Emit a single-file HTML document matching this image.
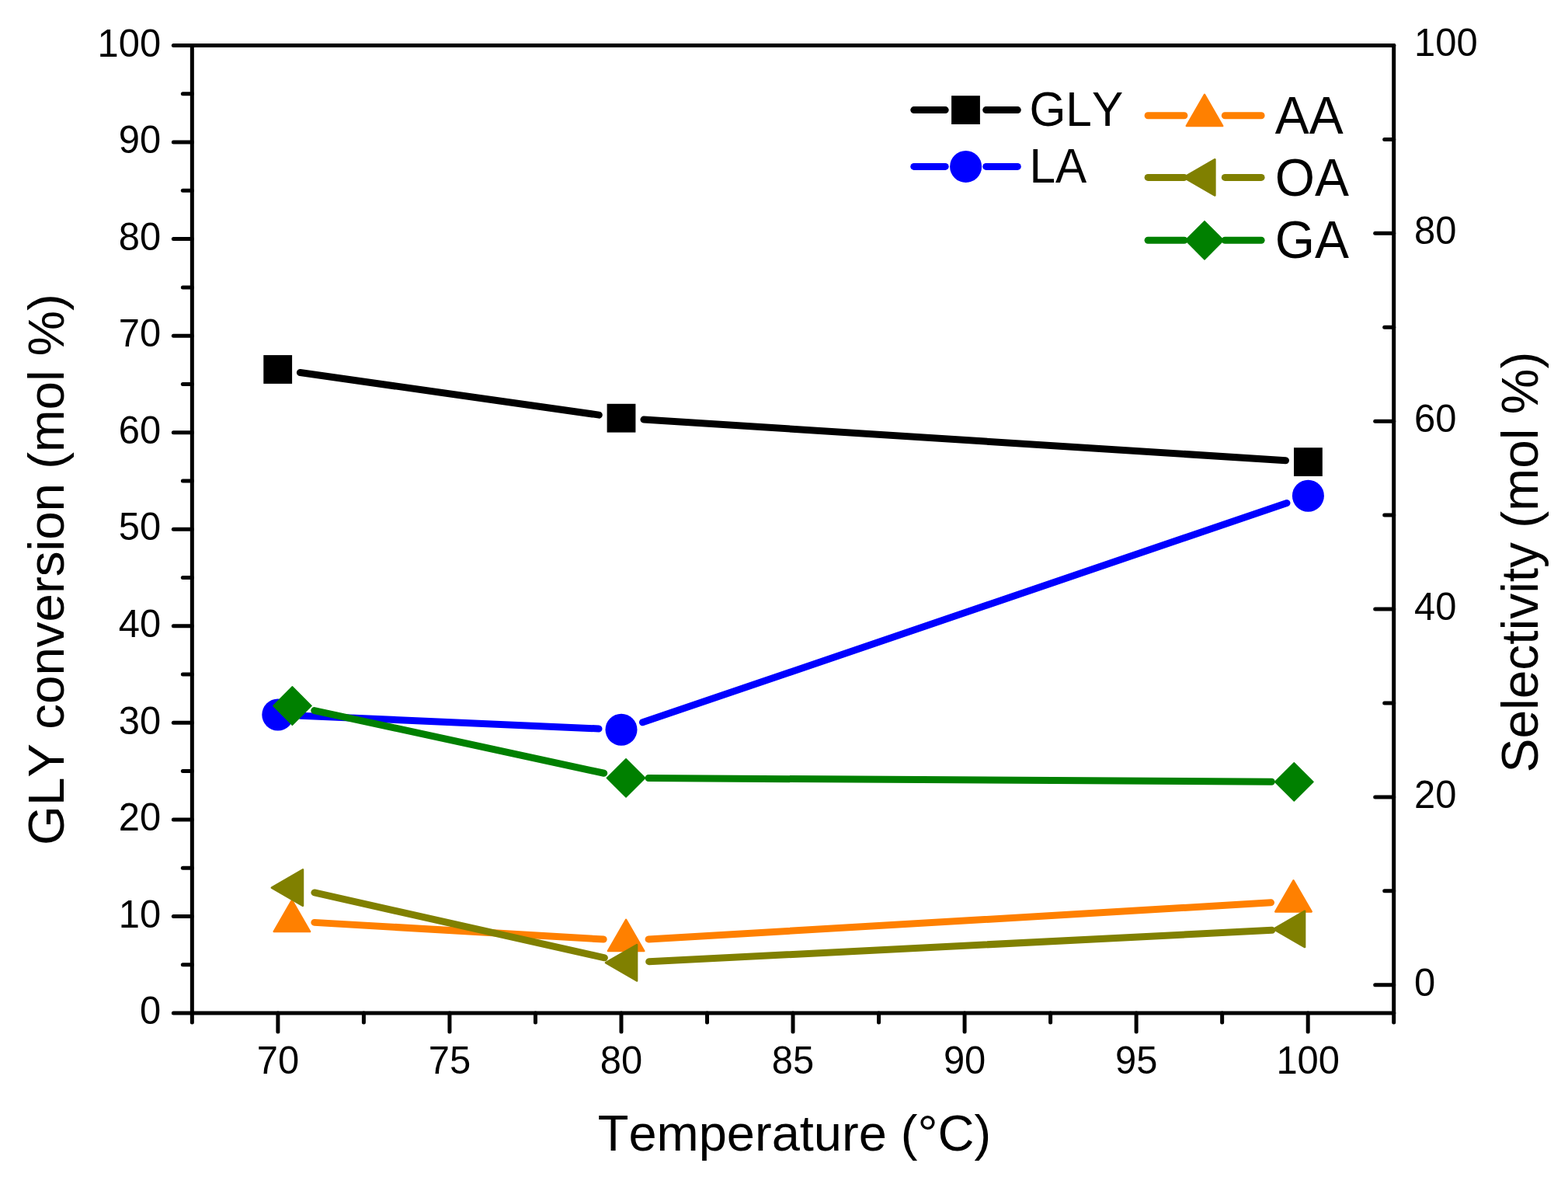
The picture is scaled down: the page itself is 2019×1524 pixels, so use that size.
<!DOCTYPE html>
<html><head><meta charset="utf-8"><title>GLY conversion vs Temperature</title>
<style>html,body{margin:0;padding:0;background:#fff;overflow:hidden;width:2019px;height:1524px;}svg{display:block;}text{font-family:"Liberation Sans", Arial, sans-serif;fill:#000;font-kerning:none;}</style>
</head><body>
<svg width="2019" height="1524" viewBox="0 0 2019 1524">
<rect width="2019" height="1524" fill="#fff"/>
<line x1="223.35" y1="1304.00" x2="247.35" y2="1304.00" stroke="#000" stroke-width="5.0" stroke-linecap="round"/>
<line x1="235.35" y1="1241.72" x2="247.35" y2="1241.72" stroke="#000" stroke-width="5.0" stroke-linecap="round"/>
<line x1="223.35" y1="1179.45" x2="247.35" y2="1179.45" stroke="#000" stroke-width="5.0" stroke-linecap="round"/>
<line x1="235.35" y1="1117.17" x2="247.35" y2="1117.17" stroke="#000" stroke-width="5.0" stroke-linecap="round"/>
<line x1="223.35" y1="1054.90" x2="247.35" y2="1054.90" stroke="#000" stroke-width="5.0" stroke-linecap="round"/>
<line x1="235.35" y1="992.62" x2="247.35" y2="992.62" stroke="#000" stroke-width="5.0" stroke-linecap="round"/>
<line x1="223.35" y1="930.35" x2="247.35" y2="930.35" stroke="#000" stroke-width="5.0" stroke-linecap="round"/>
<line x1="235.35" y1="868.08" x2="247.35" y2="868.08" stroke="#000" stroke-width="5.0" stroke-linecap="round"/>
<line x1="223.35" y1="805.80" x2="247.35" y2="805.80" stroke="#000" stroke-width="5.0" stroke-linecap="round"/>
<line x1="235.35" y1="743.52" x2="247.35" y2="743.52" stroke="#000" stroke-width="5.0" stroke-linecap="round"/>
<line x1="223.35" y1="681.25" x2="247.35" y2="681.25" stroke="#000" stroke-width="5.0" stroke-linecap="round"/>
<line x1="235.35" y1="618.98" x2="247.35" y2="618.98" stroke="#000" stroke-width="5.0" stroke-linecap="round"/>
<line x1="223.35" y1="556.70" x2="247.35" y2="556.70" stroke="#000" stroke-width="5.0" stroke-linecap="round"/>
<line x1="235.35" y1="494.42" x2="247.35" y2="494.42" stroke="#000" stroke-width="5.0" stroke-linecap="round"/>
<line x1="223.35" y1="432.15" x2="247.35" y2="432.15" stroke="#000" stroke-width="5.0" stroke-linecap="round"/>
<line x1="235.35" y1="369.88" x2="247.35" y2="369.88" stroke="#000" stroke-width="5.0" stroke-linecap="round"/>
<line x1="223.35" y1="307.60" x2="247.35" y2="307.60" stroke="#000" stroke-width="5.0" stroke-linecap="round"/>
<line x1="235.35" y1="245.33" x2="247.35" y2="245.33" stroke="#000" stroke-width="5.0" stroke-linecap="round"/>
<line x1="223.35" y1="183.05" x2="247.35" y2="183.05" stroke="#000" stroke-width="5.0" stroke-linecap="round"/>
<line x1="235.35" y1="120.78" x2="247.35" y2="120.78" stroke="#000" stroke-width="5.0" stroke-linecap="round"/>
<line x1="223.35" y1="58.50" x2="247.35" y2="58.50" stroke="#000" stroke-width="5.0" stroke-linecap="round"/>
<line x1="247.35" y1="1304.00" x2="247.35" y2="1316.00" stroke="#000" stroke-width="5.0" stroke-linecap="round"/>
<line x1="357.88" y1="1304.00" x2="357.88" y2="1328.00" stroke="#000" stroke-width="5.0" stroke-linecap="round"/>
<line x1="468.40" y1="1304.00" x2="468.40" y2="1316.00" stroke="#000" stroke-width="5.0" stroke-linecap="round"/>
<line x1="578.93" y1="1304.00" x2="578.93" y2="1328.00" stroke="#000" stroke-width="5.0" stroke-linecap="round"/>
<line x1="689.45" y1="1304.00" x2="689.45" y2="1316.00" stroke="#000" stroke-width="5.0" stroke-linecap="round"/>
<line x1="799.98" y1="1304.00" x2="799.98" y2="1328.00" stroke="#000" stroke-width="5.0" stroke-linecap="round"/>
<line x1="910.50" y1="1304.00" x2="910.50" y2="1316.00" stroke="#000" stroke-width="5.0" stroke-linecap="round"/>
<line x1="1021.03" y1="1304.00" x2="1021.03" y2="1328.00" stroke="#000" stroke-width="5.0" stroke-linecap="round"/>
<line x1="1131.55" y1="1304.00" x2="1131.55" y2="1316.00" stroke="#000" stroke-width="5.0" stroke-linecap="round"/>
<line x1="1242.08" y1="1304.00" x2="1242.08" y2="1328.00" stroke="#000" stroke-width="5.0" stroke-linecap="round"/>
<line x1="1352.60" y1="1304.00" x2="1352.60" y2="1316.00" stroke="#000" stroke-width="5.0" stroke-linecap="round"/>
<line x1="1463.13" y1="1304.00" x2="1463.13" y2="1328.00" stroke="#000" stroke-width="5.0" stroke-linecap="round"/>
<line x1="1573.65" y1="1304.00" x2="1573.65" y2="1316.00" stroke="#000" stroke-width="5.0" stroke-linecap="round"/>
<line x1="1684.18" y1="1304.00" x2="1684.18" y2="1328.00" stroke="#000" stroke-width="5.0" stroke-linecap="round"/>
<line x1="1794.70" y1="1304.00" x2="1794.70" y2="1316.00" stroke="#000" stroke-width="5.0" stroke-linecap="round"/>
<line x1="1770.70" y1="1267.72" x2="1794.70" y2="1267.72" stroke="#000" stroke-width="5.0" stroke-linecap="round"/>
<line x1="1782.70" y1="1146.80" x2="1794.70" y2="1146.80" stroke="#000" stroke-width="5.0" stroke-linecap="round"/>
<line x1="1770.70" y1="1025.88" x2="1794.70" y2="1025.88" stroke="#000" stroke-width="5.0" stroke-linecap="round"/>
<line x1="1782.70" y1="904.96" x2="1794.70" y2="904.96" stroke="#000" stroke-width="5.0" stroke-linecap="round"/>
<line x1="1770.70" y1="784.03" x2="1794.70" y2="784.03" stroke="#000" stroke-width="5.0" stroke-linecap="round"/>
<line x1="1782.70" y1="663.11" x2="1794.70" y2="663.11" stroke="#000" stroke-width="5.0" stroke-linecap="round"/>
<line x1="1770.70" y1="542.19" x2="1794.70" y2="542.19" stroke="#000" stroke-width="5.0" stroke-linecap="round"/>
<line x1="1782.70" y1="421.27" x2="1794.70" y2="421.27" stroke="#000" stroke-width="5.0" stroke-linecap="round"/>
<line x1="1770.70" y1="300.34" x2="1794.70" y2="300.34" stroke="#000" stroke-width="5.0" stroke-linecap="round"/>
<line x1="1782.70" y1="179.42" x2="1794.70" y2="179.42" stroke="#000" stroke-width="5.0" stroke-linecap="round"/>
<line x1="1770.70" y1="58.50" x2="1794.70" y2="58.50" stroke="#000" stroke-width="5.0" stroke-linecap="round"/>
<line x1="247.35" y1="58.50" x2="1794.70" y2="58.50" stroke="#000" stroke-width="5.0" stroke-linecap="round"/>
<line x1="1794.70" y1="58.50" x2="1794.70" y2="1304.00" stroke="#000" stroke-width="5.0" stroke-linecap="round"/>
<line x1="247.35" y1="1304.00" x2="1794.70" y2="1304.00" stroke="#000" stroke-width="5.0" stroke-linecap="round"/>
<line x1="247.35" y1="58.50" x2="247.35" y2="1304.00" stroke="#000" stroke-width="5.0" stroke-linecap="round"/>
<text transform="translate(207.10,1318.20) scale(1,1.035)" font-size="48.9" text-anchor="end">0</text>
<text transform="translate(207.10,1193.65) scale(1,1.035)" font-size="48.9" text-anchor="end">10</text>
<text transform="translate(207.10,1069.10) scale(1,1.035)" font-size="48.9" text-anchor="end">20</text>
<text transform="translate(207.10,944.55) scale(1,1.035)" font-size="48.9" text-anchor="end">30</text>
<text transform="translate(207.10,820.00) scale(1,1.035)" font-size="48.9" text-anchor="end">40</text>
<text transform="translate(207.10,695.45) scale(1,1.035)" font-size="48.9" text-anchor="end">50</text>
<text transform="translate(207.10,570.90) scale(1,1.035)" font-size="48.9" text-anchor="end">60</text>
<text transform="translate(207.10,446.35) scale(1,1.035)" font-size="48.9" text-anchor="end">70</text>
<text transform="translate(207.10,321.80) scale(1,1.035)" font-size="48.9" text-anchor="end">80</text>
<text transform="translate(207.10,197.25) scale(1,1.035)" font-size="48.9" text-anchor="end">90</text>
<text transform="translate(207.10,72.70) scale(1,1.035)" font-size="48.9" text-anchor="end">100</text>
<text transform="translate(357.88,1381.75) scale(1,1.035)" font-size="48.9" text-anchor="middle">70</text>
<text transform="translate(578.93,1381.75) scale(1,1.035)" font-size="48.9" text-anchor="middle">75</text>
<text transform="translate(799.98,1381.75) scale(1,1.035)" font-size="48.9" text-anchor="middle">80</text>
<text transform="translate(1021.03,1381.75) scale(1,1.035)" font-size="48.9" text-anchor="middle">85</text>
<text transform="translate(1242.08,1381.75) scale(1,1.035)" font-size="48.9" text-anchor="middle">90</text>
<text transform="translate(1463.13,1381.75) scale(1,1.035)" font-size="48.9" text-anchor="middle">95</text>
<text transform="translate(1684.18,1381.75) scale(1,1.035)" font-size="48.9" text-anchor="middle">100</text>
<text transform="translate(1821.00,1281.52) scale(1,1.035)" font-size="48.9" text-anchor="start">0</text>
<text transform="translate(1821.00,1039.68) scale(1,1.035)" font-size="48.9" text-anchor="start">20</text>
<text transform="translate(1821.00,797.83) scale(1,1.035)" font-size="48.9" text-anchor="start">40</text>
<text transform="translate(1821.00,555.99) scale(1,1.035)" font-size="48.9" text-anchor="start">60</text>
<text transform="translate(1821.00,314.14) scale(1,1.035)" font-size="48.9" text-anchor="start">80</text>
<text transform="translate(1821.00,72.30) scale(1,1.035)" font-size="48.9" text-anchor="start">100</text>
<text transform="translate(1022.90,1481.00) scale(1,1.0)" font-size="65.0" text-anchor="middle">Temperature (°C)</text>
<text transform="translate(82.00,733.10) rotate(-90) scale(1,1.0)" font-size="65.5" text-anchor="middle">GLY conversion (mol %)</text>
<text transform="translate(1980.00,723.60) rotate(-90) scale(1,1.0)" font-size="65.9" text-anchor="middle">Selectivity (mol %)</text>
<line x1="386.41" y1="479.57" x2="771.29" y2="534.13" stroke="#000000" stroke-width="9.0" stroke-linecap="round"/>
<line x1="828.94" y1="540.05" x2="1655.46" y2="592.75" stroke="#000000" stroke-width="9.0" stroke-linecap="round"/>
<line x1="386.77" y1="921.26" x2="771.03" y2="937.94" stroke="#0000FF" stroke-width="9.0" stroke-linecap="round"/>
<line x1="827.45" y1="929.86" x2="1656.95" y2="647.54" stroke="#0000FF" stroke-width="9.0" stroke-linecap="round"/>
<line x1="404.85" y1="1187.38" x2="777.15" y2="1209.02" stroke="#FF8000" stroke-width="9.0" stroke-linecap="round"/>
<line x1="835.05" y1="1209.00" x2="1636.55" y2="1161.80" stroke="#FF8000" stroke-width="9.0" stroke-linecap="round"/>
<line x1="404.90" y1="1148.96" x2="778.40" y2="1232.84" stroke="#808000" stroke-width="9.0" stroke-linecap="round"/>
<line x1="835.66" y1="1237.74" x2="1637.74" y2="1197.36" stroke="#808000" stroke-width="9.0" stroke-linecap="round"/>
<line x1="404.74" y1="914.63" x2="777.71" y2="995.27" stroke="#008000" stroke-width="9.0" stroke-linecap="round"/>
<line x1="835.05" y1="1001.57" x2="1637.30" y2="1006.23" stroke="#008000" stroke-width="9.0" stroke-linecap="round"/>
<rect x="339.30" y="457.10" width="36.8" height="36.8" fill="#000000"/>
<rect x="781.60" y="519.80" width="36.8" height="36.8" fill="#000000"/>
<rect x="1666.00" y="576.20" width="36.8" height="36.8" fill="#000000"/>
<circle cx="357.80" cy="920.00" r="20.5" fill="#0000FF"/>
<circle cx="800.00" cy="939.20" r="20.5" fill="#0000FF"/>
<circle cx="1684.40" cy="638.20" r="20.5" fill="#0000FF"/>
<polygon points="375.90,1158.91 399.10,1199.09 352.70,1199.09" fill="#FF8000" stroke="#FF8000" stroke-width="2.5" stroke-linejoin="round"/>
<polygon points="806.10,1183.91 829.30,1224.09 782.90,1224.09" fill="#FF8000" stroke="#FF8000" stroke-width="2.5" stroke-linejoin="round"/>
<polygon points="1665.50,1133.31 1688.70,1173.49 1642.30,1173.49" fill="#FF8000" stroke="#FF8000" stroke-width="2.5" stroke-linejoin="round"/>
<polygon points="349.81,1142.60 389.99,1119.40 389.99,1165.80" fill="#808000" stroke="#808000" stroke-width="2.5" stroke-linejoin="round"/>
<polygon points="779.91,1239.20 820.09,1216.00 820.09,1262.40" fill="#808000" stroke="#808000" stroke-width="2.5" stroke-linejoin="round"/>
<polygon points="1639.91,1195.90 1680.09,1172.70 1680.09,1219.10" fill="#808000" stroke="#808000" stroke-width="2.5" stroke-linejoin="round"/>
<polygon points="376.40,883.90 401.00,908.50 376.40,933.10 351.80,908.50" fill="#008000" stroke="#008000" stroke-width="1.6" stroke-linejoin="round"/>
<polygon points="806.05,976.80 830.65,1001.40 806.05,1026.00 781.45,1001.40" fill="#008000" stroke="#008000" stroke-width="1.6" stroke-linejoin="round"/>
<polygon points="1666.30,981.80 1690.90,1006.40 1666.30,1031.00 1641.70,1006.40" fill="#008000" stroke="#008000" stroke-width="1.6" stroke-linejoin="round"/>
<line x1="1176.80" y1="141.60" x2="1217.20" y2="141.60" stroke="#000000" stroke-width="9.0" stroke-linecap="round"/>
<line x1="1269.70" y1="141.60" x2="1310.30" y2="141.60" stroke="#000000" stroke-width="9.0" stroke-linecap="round"/>
<rect x="1225.10" y="123.20" width="36.8" height="36.8" fill="#000000"/>
<line x1="1176.80" y1="214.40" x2="1217.20" y2="214.40" stroke="#0000FF" stroke-width="9.0" stroke-linecap="round"/>
<line x1="1269.70" y1="214.40" x2="1310.30" y2="214.40" stroke="#0000FF" stroke-width="9.0" stroke-linecap="round"/>
<circle cx="1243.60" cy="214.40" r="20.5" fill="#0000FF"/>
<line x1="1478.10" y1="148.70" x2="1524.90" y2="148.70" stroke="#FF8000" stroke-width="9.0" stroke-linecap="round"/>
<line x1="1577.30" y1="148.70" x2="1624.10" y2="148.70" stroke="#FF8000" stroke-width="9.0" stroke-linecap="round"/>
<polygon points="1551.00,121.91 1574.20,162.09 1527.80,162.09" fill="#FF8000" stroke="#FF8000" stroke-width="2.5" stroke-linejoin="round"/>
<line x1="1478.10" y1="228.40" x2="1524.90" y2="228.40" stroke="#808000" stroke-width="9.0" stroke-linecap="round"/>
<line x1="1577.30" y1="228.40" x2="1624.10" y2="228.40" stroke="#808000" stroke-width="9.0" stroke-linecap="round"/>
<polygon points="1524.21,228.40 1564.39,205.20 1564.39,251.60" fill="#808000" stroke="#808000" stroke-width="2.5" stroke-linejoin="round"/>
<line x1="1478.10" y1="309.30" x2="1524.90" y2="309.30" stroke="#008000" stroke-width="9.0" stroke-linecap="round"/>
<line x1="1577.30" y1="309.30" x2="1624.10" y2="309.30" stroke="#008000" stroke-width="9.0" stroke-linecap="round"/>
<polygon points="1551.00,284.70 1575.60,309.30 1551.00,333.90 1526.40,309.30" fill="#008000" stroke="#008000" stroke-width="1.6" stroke-linejoin="round"/>
<text transform="translate(1325.40,162.10) scale(1,1.035)" font-size="60.35" text-anchor="start">GLY</text>
<text transform="translate(1325.40,234.90) scale(1,1.035)" font-size="60.35" text-anchor="start">LA</text>
<text transform="translate(1641.70,171.80) scale(1,1.035)" font-size="65.9" text-anchor="start">AA</text>
<text transform="translate(1641.70,251.70) scale(1,1.035)" font-size="65.9" text-anchor="start">OA</text>
<text transform="translate(1641.70,331.80) scale(1,1.035)" font-size="65.9" text-anchor="start">GA</text>
</svg>
</body></html>
